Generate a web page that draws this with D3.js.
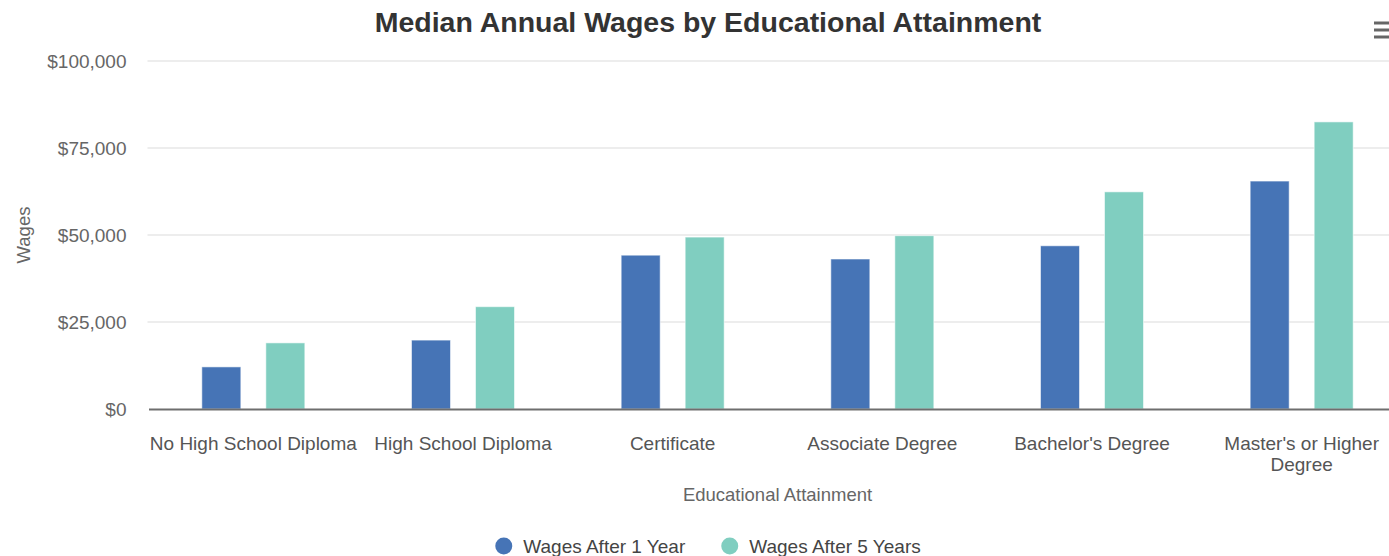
<!DOCTYPE html>
<html>
<head>
<meta charset="utf-8">
<script src="https://cdn.jsdelivr.net/npm/d3@7"></script>
<style>
  html, body { margin: 0; padding: 0; background: #fff; overflow: hidden; }
  svg { display: block; font-family: "Liberation Sans", Arial, Helvetica, sans-serif; }
</style>
</head>
<body>
<div id="chart"></div>
<script>
// Median annual wages, by level of education
const categories = [
  "No High School Diploma",
  "High School Diploma",
  "Certificate",
  "Associate Degree",
  "Bachelor's Degree",
  "Master's or Higher Degree"
];
const seriesNames = ["Wages After 1 Year", "Wages After 5 Years"];
const wagesAfter1Year = [12100, 19800, 44200, 43100, 46900, 65500];
const wagesAfter5Years = [19000, 29400, 49400, 49800, 62400, 82500];
const yTicks = [0, 25000, 50000, 75000, 100000];
const colors = ["#4674b6", "#80cec0"];

const width = 1416, height = 556;
const margin = { top: 61, right: 9.5, bottom: 147, left: 148.5 };
const plotW = width - margin.left - margin.right;
const plotH = height - margin.top - margin.bottom;

const svg = d3.select("#chart").append("svg")
  .attr("width", width)
  .attr("height", height);

// Title
svg.append("text")
  .attr("x", width / 2)
  .attr("y", 32)
  .attr("text-anchor", "middle")
  .attr("font-size", 28.5)
  .attr("font-weight", "bold")
  .attr("fill", "#333")
  .text("Median Annual Wages by Educational Attainment");

// Export menu glyph
const menu = svg.append("g").attr("stroke", "#666").attr("stroke-width", 3);
[23, 30, 37].forEach(y => {
  menu.append("line").attr("x1", 1374).attr("x2", 1398).attr("y1", y).attr("y2", y);
});

const g = svg.append("g").attr("transform", `translate(${margin.left},${margin.top})`);

const x0 = d3.scaleBand().domain(categories).range([0, plotW]).padding(0);
const x1 = d3.scaleBand().domain(seriesNames)
  .range([0, x0.bandwidth()])
  .paddingInner(25 / 64);
// outer padding so that bar centres sit 64px apart around the category centre
x1.paddingOuter((x0.bandwidth() / 64 - 2 + x1.paddingInner()) / 2);

const y = d3.scaleLinear().domain([0, 100000]).range([plotH, 0]);

// Grid lines
g.append("g")
  .selectAll("line")
  .data(yTicks.filter(d => d > 0))
  .join("line")
  .attr("x1", -1)
  .attr("x2", plotW)
  .attr("y1", d => y(d))
  .attr("y2", d => y(d))
  .attr("stroke", "#ededed")
  .attr("stroke-width", 2);

// Y axis labels
const yAxis = d3.axisLeft(y)
  .tickValues(yTicks)
  .tickSize(0)
  .tickPadding(22)
  .tickFormat(d => "$" + d3.format(",")(d));
const yG = g.append("g").call(yAxis);
yG.select(".domain").remove();
yG.selectAll("text")
  .attr("font-size", 19)
  .attr("fill", "#666")
  .attr("font-family", "Liberation Sans, Arial, sans-serif");

// Bars
const rows = categories.map((c, i) => ({
  category: c,
  values: [
    { key: seriesNames[0], value: wagesAfter1Year[i] },
    { key: seriesNames[1], value: wagesAfter5Years[i] }
  ]
}));

g.append("g")
  .selectAll("g")
  .data(rows)
  .join("g")
  .attr("transform", d => `translate(${x0(d.category)},0)`)
  .selectAll("rect")
  .data(d => d.values)
  .join("rect")
  .attr("x", d => x1(d.key))
  .attr("width", x1.bandwidth())
  .attr("y", d => y(d.value))
  .attr("height", d => y(0) - y(d.value))
  .attr("fill", (d, i) => colors[i])
  .attr("stroke", "rgba(255,255,255,0.55)")
  .attr("stroke-width", 1);

// X axis
const xAxis = d3.axisBottom(x0).tickSize(0).tickPadding(0);
const xG = g.append("g").attr("transform", `translate(0,${plotH})`).call(xAxis);
xG.select(".domain")
  .attr("stroke", "#6e6e6e")
  .attr("stroke-width", 2);
xG.selectAll(".tick text")
  .attr("font-size", 19)
  .attr("fill", "#555")
  .attr("font-family", "Liberation Sans, Arial, sans-serif")
  .attr("dy", null)
  .attr("y", 0)
  .each(function(d) {
    const text = d3.select(this);
    const words = d.split(" ");
    const maxW = x0.step() + 1;
    text.text(null);
    let lines = [], line = [];
    const probe = text.append("tspan");
    words.forEach(w => {
      const test = line.concat(w).join(" ");
      probe.text(test);
      if (probe.node().getComputedTextLength() > maxW && line.length) {
        lines.push(line.join(" "));
        line = [w];
      } else {
        line.push(w);
      }
    });
    lines.push(line.join(" "));
    probe.remove();
    lines.forEach((l, i) => {
      text.append("tspan")
        .attr("x", 0)
        .attr("y", 41 + i * 21)
        .text(l);
    });
  });

// Axis titles
g.append("text")
  .attr("x", plotW / 2)
  .attr("y", plotH + 92)
  .attr("text-anchor", "middle")
  .attr("font-size", 18.5)
  .attr("fill", "#666")
  .text("Educational Attainment");

svg.append("text")
  .attr("transform", `translate(30,${margin.top + plotH / 2}) rotate(-90)`)
  .attr("text-anchor", "middle")
  .attr("font-size", 18.5)
  .attr("fill", "#666")
  .text("Wages");

// Legend
const legend = svg.append("g");
const items = legend.selectAll("g")
  .data(seriesNames)
  .join("g");
items.append("circle")
  .attr("r", 8.5)
  .attr("cx", 8.5)
  .attr("cy", 0)
  .attr("fill", (d, i) => colors[i]);
items.append("text")
  .attr("x", 28)
  .attr("y", 7)
  .attr("font-size", 19)
  .attr("fill", "#444")
  .text(d => d);
let offset = 0;
const widths = [];
items.each(function() {
  const w = 28 + d3.select(this).select("text").node().getComputedTextLength();
  widths.push(w);
});
const gap = 36;
const total = d3.sum(widths) + gap * (widths.length - 1);
items.attr("transform", (d, i) => {
  const tx = offset;
  offset += widths[i] + gap;
  return `translate(${tx},0)`;
});
legend.attr("transform", `translate(${width / 2 - total / 2},546)`);
</script>
</body>
</html>
